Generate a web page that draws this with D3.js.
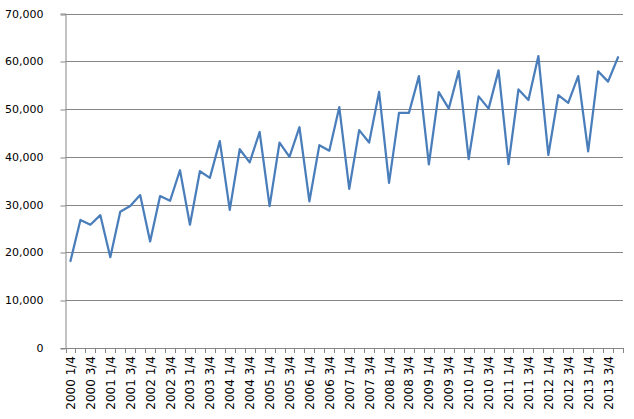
<!DOCTYPE html>
<html>
<head>
<meta charset="utf-8">
<script src="https://cdn.jsdelivr.net/npm/d3@7/dist/d3.min.js"></script>
<style>
  html, body { margin: 0; padding: 0; background: #fff; }
  svg { display: block; }
</style>
</head>
<body>
<svg id="chart" width="634" height="419"></svg>
<script>
// ---- data ----
const years = [2000,2001,2002,2003,2004,2005,2006,2007,2008,2009,2010,2011,2012,2013];
const quarters = ["1/4","2/4","3/4","4/4"];
const categories = years.flatMap(y => quarters.map(q => y + " " + q));
const values = [
  18200, 26800, 25800, 27800,
  19000, 28500, 29700, 32000,
  22300, 31800, 30800, 37200,
  25800, 37000, 35600, 43300,
  28900, 41600, 38850, 45200,
  29700, 43000, 40000, 46200,
  30700, 42450, 41300, 50400,
  33300, 45600, 43000, 53600,
  34550, 49200, 49200, 56900,
  38450, 53550, 50100, 57950,
  39550, 52650, 50100, 58100,
  38500, 54100, 51900, 61100,
  40400, 52900, 51300, 56900,
  41150, 57900, 55750, 60850
];
const yTicks = [0,10000,20000,30000,40000,50000,60000,70000];

// ---- layout ----
const svg = d3.select("#chart");
const m = {left: 65.5, right: 623, top: 13.5, bottom: 348};

const x = d3.scaleBand().domain(categories).range([m.left, m.right]).paddingInner(0).paddingOuter(0);
const y = d3.scaleLinear().domain([0, 70000]).range([m.bottom, m.top]);

// gridlines
svg.append("g")
  .selectAll("line")
  .data(yTicks.filter(d => d > 0))
  .join("line")
  .attr("x1", m.left).attr("x2", m.right)
  .attr("y1", d => Math.round(y(d)) + 0.5).attr("y2", d => Math.round(y(d)) + 0.5)
  .attr("stroke", "#868686").attr("stroke-width", 1);

// y axis
const yAxis = d3.axisLeft(y).tickValues(yTicks).tickSize(5).tickPadding(17)
  .tickFormat(d3.format(","));
const gy = svg.append("g").attr("transform", `translate(${m.left},0)`).call(yAxis);
gy.select(".domain").attr("stroke", "#868686");
gy.selectAll(".tick line").attr("stroke", "#868686")
  .attr("transform", d => `translate(0,${Math.round(y(d)) + 0.5 - y(d)})`);
gy.selectAll(".tick text")
  .attr("font-family", "'DejaVu Sans', sans-serif").attr("font-size", 11).attr("fill", "#000");

// x axis: tick marks between categories
const boundaries = categories.map(c => x(c)).concat([m.right]);
svg.append("line")
  .attr("x1", m.left).attr("x2", m.right)
  .attr("y1", m.bottom + 0.5).attr("y2", m.bottom + 0.5)
  .attr("stroke", "#868686");
svg.append("g").selectAll("line")
  .data(boundaries)
  .join("line")
  .attr("x1", d => Math.round(d) + 0.5).attr("x2", d => Math.round(d) + 0.5)
  .attr("y1", m.bottom).attr("y2", m.bottom + 5)
  .attr("stroke", "#868686");

// x labels (every other category)
svg.append("g").selectAll("text")
  .data(categories.filter((d, i) => i % 2 === 0))
  .join("text")
  .attr("transform", d => `translate(${x(d) + x.bandwidth() / 2 + 4.5},356) rotate(-90)`)
  .attr("text-anchor", "end")
  .attr("font-family", "'DejaVu Sans', sans-serif")
  .attr("font-size", 12)
  .attr("fill", "#000")
  .text(d => d);

// line
const line = d3.line()
  .x((d, i) => x(categories[i]) + x.bandwidth() / 2)
  .y(d => y(d));
svg.append("path")
  .datum(values)
  .attr("d", line)
  .attr("fill", "none")
  .attr("stroke", "#4a7ebb")
  .attr("stroke-width", 2.25)
  .attr("stroke-linejoin", "round")
  .attr("stroke-linecap", "round");
</script>
</body>
</html>
